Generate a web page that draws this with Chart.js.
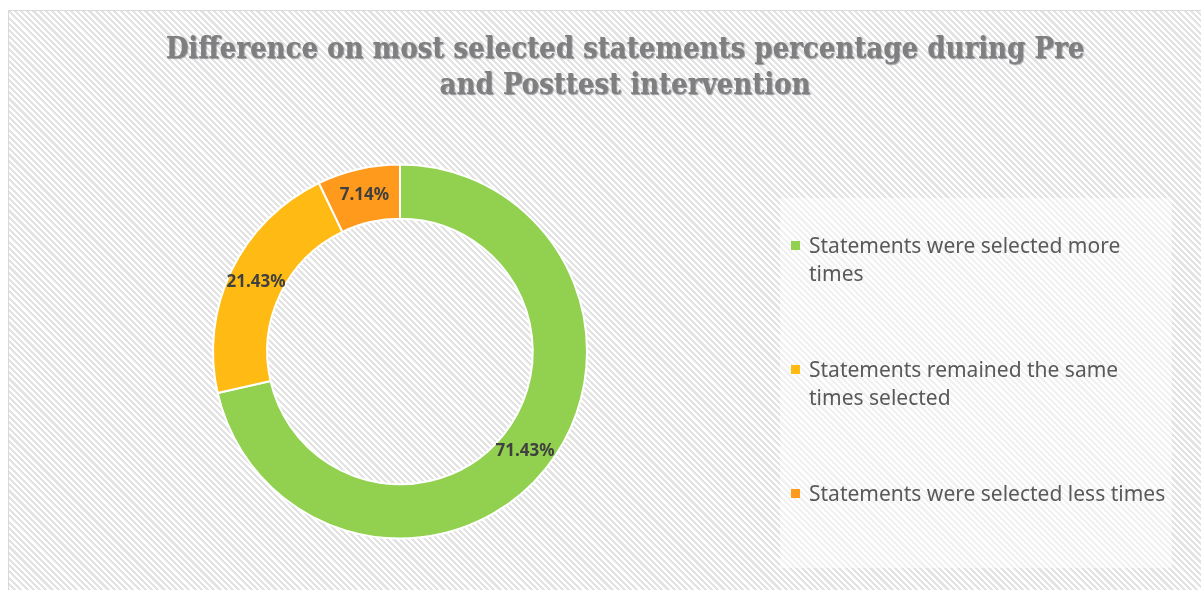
<!DOCTYPE html>
<html>
<head>
<meta charset="utf-8">
<script src="https://cdn.jsdelivr.net/npm/chart.js@4.4.1/dist/chart.umd.min.js"></script>
<style>
  body { margin: 0; width: 1201px; height: 590px; overflow: hidden; background: #fff; }
  #frame {
    position: absolute; left: 8px; top: 10px; width: 1200px; height: 590px;
    border: 1px solid #d9d9d9;
    background: repeating-linear-gradient(45deg, #ffffff 0px, #ffffff 2.2px, #e3e3e3 2.2px, #e3e3e3 4.4px);
  }
  #title {
    position: absolute; left: 0; top: 19px; width: 1232px; text-align: center;
    font-family: "DejaVu Serif Condensed", "DejaVu Serif", serif; font-stretch: condensed;
    font-weight: bold; font-size: 29px; line-height: 36px; color: #7f7f7f;
    text-shadow: 1px 1px 1px rgba(40, 40, 60, 0.45);
  }
  #chart { position: absolute; left: 0; top: 0; }
  #legend {
    position: absolute; left: 771px; top: 187px; width: 392px; height: 370px;
    background: rgba(255, 255, 255, 0.5);
    font-family: "Noto Sans", sans-serif; font-size: 21px; line-height: 28px; color: #595959;
    box-sizing: border-box; padding-top: 33px;
  }
  .item { position: relative; padding-left: 29px; width: 362px; margin-bottom: 68px; }
  .box { position: absolute; left: 11px; top: 10px; width: 9px; height: 9px; }
</style>
</head>
<body>
<div id="frame">
  <canvas id="chart" width="1192" height="579"></canvas>
  <div id="title">Difference on most selected statements percentage during Pre<br>and Posttest intervention</div>
  <div id="legend"></div>
</div>
<script>
// ---------- data ----------
var categories = [
  "Statements were selected more times",
  "Statements remained the same times selected",
  "Statements were selected less times"
];
var shares = [71.43, 21.43, 7.14];
var colors = ["#92d050", "#ffbb14", "#ff9a1c"];

// ---------- legend (html) ----------
var legend = document.getElementById("legend");
for (var i = 0; i < categories.length; i++) {
  var item = document.createElement("div");
  item.className = "item";
  var box = document.createElement("span");
  box.className = "box";
  box.style.background = colors[i];
  item.appendChild(box);
  item.appendChild(document.createTextNode(categories[i]));
  legend.appendChild(item);
}

// ---------- labels on the ring ----------
var pctLabels = {
  id: "pctLabels",
  afterDatasetsDraw: function (chart) {
    var ctx = chart.ctx;
    var meta = chart.getDatasetMeta(0);
    ctx.save();
    ctx.font = 'bold 17px "Noto Sans"';
    ctx.fillStyle = "#404040";
    ctx.textAlign = "center";
    ctx.textBaseline = "middle";
    meta.data.forEach(function (arc, i) {
      var p = arc.tooltipPosition();
      ctx.fillText(shares[i].toFixed(2) + "%", p.x, p.y);
    });
    ctx.restore();
  }
};

// ---------- chart ----------
new Chart(document.getElementById("chart"), {
  type: "doughnut",
  data: {
    labels: categories,
    datasets: [{
      data: shares,
      backgroundColor: colors,
      borderColor: "#ffffff",
      borderWidth: 2,
      hoverOffset: 0,
      radius: 187
    }]
  },
  options: {
    responsive: false,
    animation: false,
    cutout: "71%",
    layout: { padding: { left: 200, right: 610, top: 150, bottom: 48 } },
    plugins: {
      legend: { display: false },
      tooltip: { enabled: false },
      title: { display: false }
    }
  },
  plugins: [pctLabels]
});
</script>
</body>
</html>
